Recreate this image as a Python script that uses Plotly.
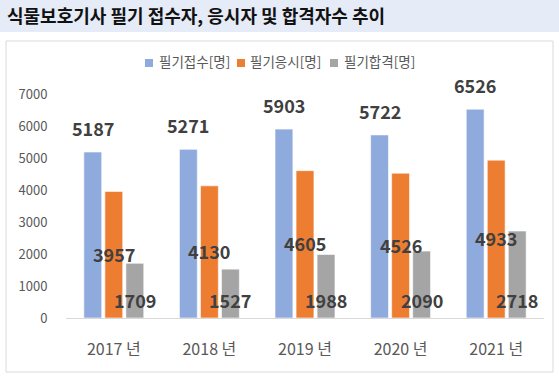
import plotly.graph_objects as go

years = ["2017 년", "2018 년", "2019 년", "2020 년", "2021 년"]
applied = [5187, 5271, 5903, 5722, 6526]
took = [3957, 4130, 4605, 4526, 4933]
passed = [1709, 1527, 1988, 2090, 2718]
series_names = ["필기접수[명]", "필기응시[명]", "필기합격[명]"]
colors = ["#8FAADC", "#ED7D31", "#A5A5A5"]

W, H = 559, 383
L, R, T, B = 66, 15, 94, 65
pw, ph = W - L - R, H - T - B

def px_x(p):
    return (p - L) / pw

def px_y(p):
    return (H - B - p) / ph

fig = go.Figure()
for name, vals, col in zip(series_names, [applied, took, passed], colors):
    fig.add_trace(go.Bar(
        x=years, y=vals, name=name,
        marker=dict(color=col, line=dict(color="rgba(255,255,255,0.6)", width=1)),
    ))

FONT = "Noto Sans CJK KR, Noto Sans, sans-serif"
lab_font = dict(family=FONT, size=18, color="#404040")
ann = []
for yr, v in zip(years, applied):
    ann.append(dict(x=yr, y=v, xref="x", yref="y", text=f"<b>{v}</b>", showarrow=False,
                    xshift=-21, yshift=24, yanchor="middle", xanchor="center", font=lab_font))
for yr, v in zip(years, took):
    ann.append(dict(x=yr, y=v / 2, xref="x", yref="y", text=f"<b>{v}</b>", showarrow=False,
                    xshift=0, yshift=1, yanchor="middle", xanchor="center", font=lab_font))
for yr, v in zip(years, passed):
    ann.append(dict(x=yr, y=0, xref="x", yref="y", text=f"<b>{v}</b>", showarrow=False,
                    xshift=21, yshift=18, yanchor="middle", xanchor="center", font=lab_font))

shapes = [
    dict(type="rect", xref="paper", yref="paper",
         x0=px_x(0), x1=px_x(W), y0=px_y(32), y1=px_y(0),
         fillcolor="#E5EBF7", line=dict(width=0), layer="below"),
    dict(type="rect", xref="paper", yref="paper",
         x0=px_x(6), x1=px_x(553), y0=px_y(372), y1=px_y(41),
         fillcolor="rgba(0,0,0,0)", line=dict(color="#D9D9D9", width=1), layer="below"),
]

# legend (squares + labels) built in pixel positions
leg_sq_x = [145, 237, 330]
leg_tx_x = [157, 248, 342]
for name, col, sx, tx in zip(series_names, colors, leg_sq_x, leg_tx_x):
    shapes.append(dict(type="rect", xref="paper", yref="paper",
                       x0=px_x(sx), x1=px_x(sx + 8), y0=px_y(67), y1=px_y(59),
                       fillcolor=col, line=dict(width=0)))
    ann.append(dict(x=px_x(tx), y=px_y(61.5), xref="paper", yref="paper", text=name,
                    showarrow=False, xanchor="left", yanchor="middle",
                    font=dict(family=FONT, size=13.5, color="#595959")))

fig.update_layout(
    width=W, height=H,
    margin=dict(l=L, r=R, t=T, b=B, autoexpand=False),
    paper_bgcolor="white", plot_bgcolor="white",
    font=dict(family=FONT, color="#595959"),
    title=dict(text="<b>식물보호기사 필기 접수자, 응시자 및 합격자수 추이</b>",
               x=7 / W, xref="container", xanchor="left",
               y=1 - 16.5 / H, yref="container", yanchor="middle",
               font=dict(size=18, color="#111111", family=FONT)),
    barmode="group", bargap=0.34, bargroupgap=0.15,
    showlegend=False,
    xaxis=dict(showline=True, linecolor="#D9D9D9", linewidth=1,
               ticks="outside", ticklen=17, tickcolor="rgba(0,0,0,0)",
               tickfont=dict(size=16, color="#595959"), showgrid=False,
               automargin=False),
    yaxis=dict(range=[0, 7000], dtick=1000, showgrid=False, showline=False,
               zeroline=False, ticks="outside", ticklen=15, tickcolor="rgba(0,0,0,0)",
               tickfont=dict(size=13, color="#595959"), automargin=False),
    annotations=ann,
    shapes=shapes,
)

fig.write_html("out.html", config={"displayModeBar": False},
               post_script="document.body.style.margin='0';")
